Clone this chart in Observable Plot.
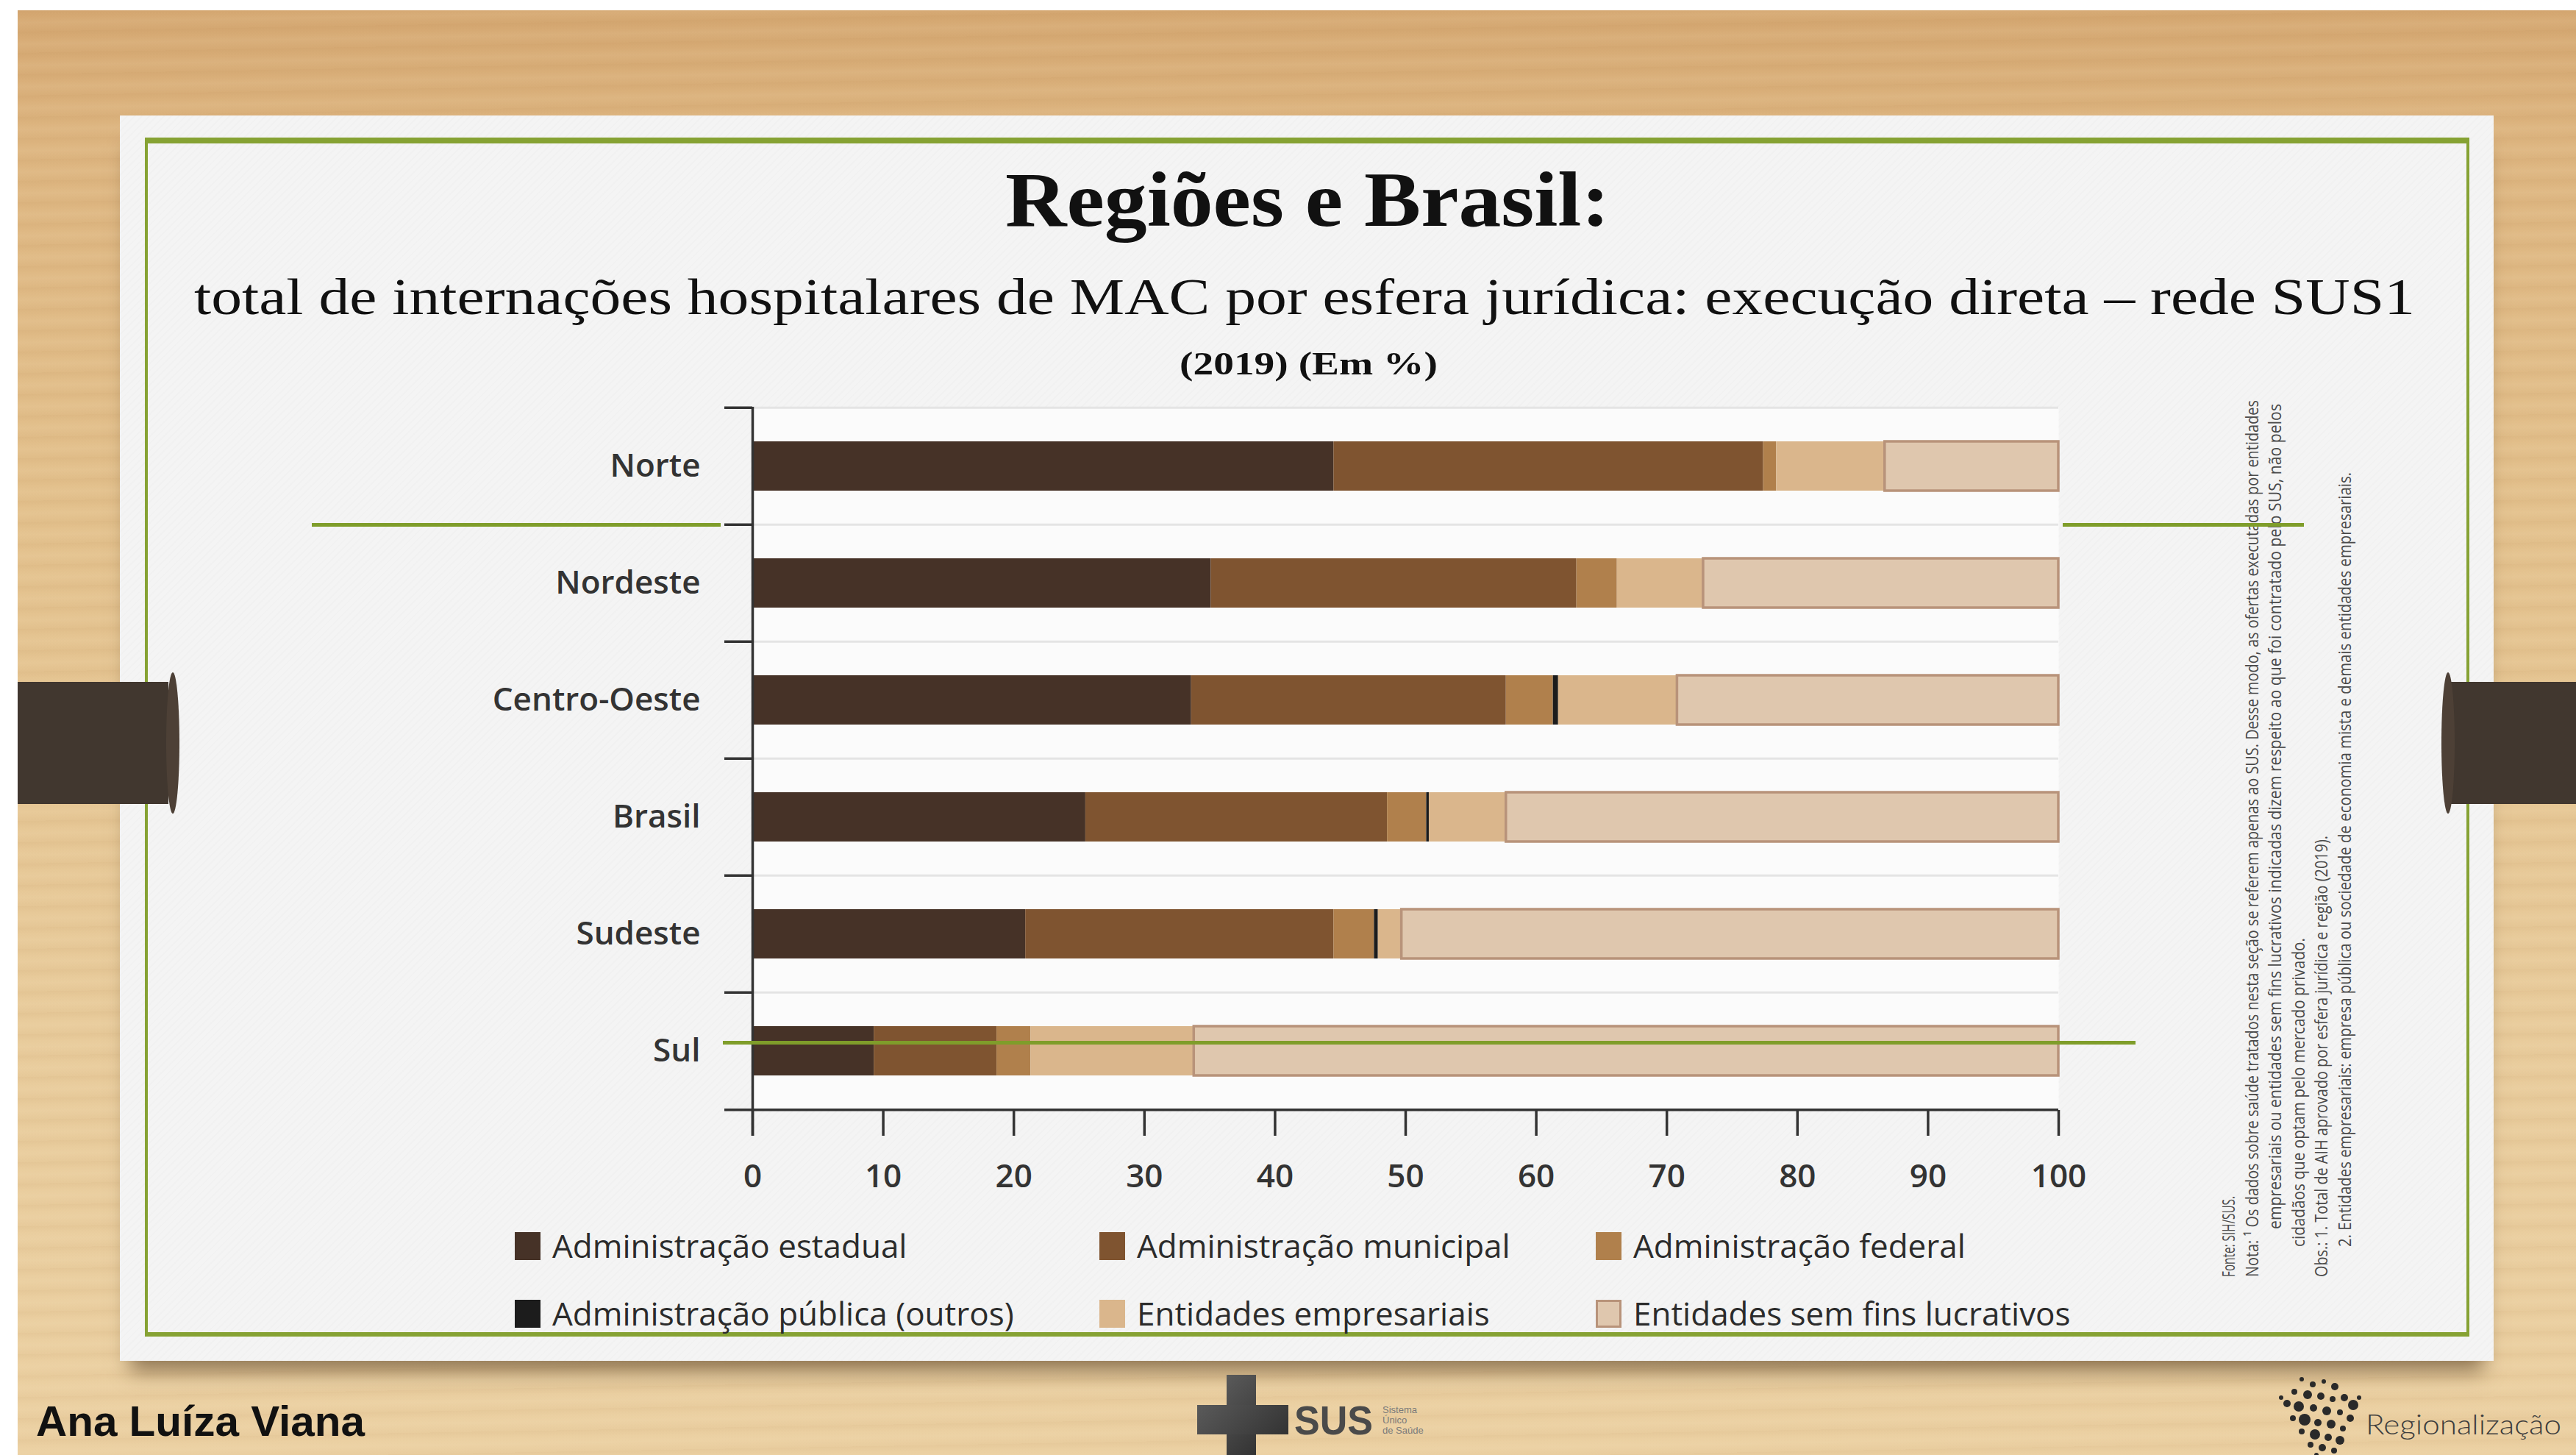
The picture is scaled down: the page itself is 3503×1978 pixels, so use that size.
<!DOCTYPE html>
<html><head><meta charset="utf-8">
<script src="https://cdn.jsdelivr.net/npm/d3@7"></script>
<script src="https://cdn.jsdelivr.net/npm/@observablehq/plot@0.6"></script>
<style>
html,body{margin:0;padding:0;}
body{width:3503px;height:1978px;position:relative;overflow:hidden;background:#fff;}
#wood{position:absolute;left:24px;top:14px;right:0;bottom:0;z-index:0;background:
 repeating-linear-gradient(179deg, rgba(150,95,40,0.06) 0px, rgba(150,95,40,0.0) 9px, rgba(255,240,210,0.07) 17px, rgba(150,95,40,0.03) 29px),
 linear-gradient(180deg,#d5a872 0%,#ddb580 9%,#e3c18d 35%,#e8cb9b 70%,#ebd0a2 100%);}
#card{position:absolute;left:163px;top:157px;width:3228px;height:1693px;z-index:1;background:#f4f4f4;
 background-image:repeating-linear-gradient(135deg, rgba(0,0,0,0.012) 0 2px, transparent 2px 7px);
 box-shadow:0 28px 26px -14px rgba(70,45,20,0.55);}
#border{position:absolute;left:197px;top:187px;width:3161px;height:1630px;z-index:2;box-sizing:border-box;
 border:4px solid #86a233;border-top-width:8px;border-bottom-width:6px;}
#chart{position:absolute;left:560px;top:520px;z-index:5;}
#chart svg{overflow:visible;}
.deco{position:absolute;height:5px;background:#7f9d2a;z-index:8;}
.tab{position:absolute;background:#41372f;z-index:9;}
.knob{position:absolute;background:#4d4036;border-radius:50%;z-index:9;}
.sw{position:absolute;width:35px;height:38px;box-sizing:border-box;z-index:6;}
.dot{position:absolute;background:#2a2a2a;border-radius:50%;z-index:6;}
</style>
</head><body>
<div id="wood"></div>
<div id="card"></div>
<div id="border"></div>
<div id="chart"></div>
<script>
// ---------- data ----------
const regions = ["Norte", "Nordeste", "Centro-Oeste", "Brasil", "Sudeste", "Sul"];
const series = ["Administração estadual", "Administração municipal", "Administração federal",
  "Administração pública (outros)", "Entidades empresariais", "Entidades sem fins lucrativos"];
const seriesColors = ["#463227", "#7f5430", "#b0804c", "#1c1c1c", "#dab68c", "#dfc7ae"];
const estadual      = [44.5, 35.1, 33.6, 25.5, 20.9, 9.3];
const municipal     = [32.9, 28.0, 24.1, 23.1, 23.6, 9.4];
const federal       = [1.0, 3.1, 3.6, 3.0, 3.1, 2.6];
const publicaOutros = [0.0, 0.0, 0.4, 0.2, 0.3, 0.0];
const empresariais  = [8.3, 6.6, 9.1, 5.9, 1.8, 12.5];
const semFins       = [13.3, 27.2, 29.2, 42.3, 50.3, 66.2];
const xTicks = [0, 10, 20, 30, 40, 50, 60, 70, 80, 90, 100];

const titleText = "Regiões e Brasil:";
const subtitleText = "total de internações hospitalares de MAC por esfera jurídica: execução direta – rede SUS1";
const subtitle2Text = "(2019) (Em %)";
const notes = [
  "Fonte: SIH/SUS.",
  "Nota: ¹ Os dados sobre saúde tratados nesta seção se referem apenas ao SUS. Desse modo, as ofertas executadas por entidades",
  "empresariais ou entidades sem fins lucrativos indicadas dizem respeito ao que foi contratado pelo SUS, não pelos",
  "cidadãos que optam pelo mercado privado.",
  "Obs.: 1. Total de AIH aprovado por esfera jurídica e região (2019).",
  "2. Entidades empresariais: empresa pública ou sociedade de economia mista e demais entidades empresariais."
];

// ---------- table ----------
const seriesValues = [estadual, municipal, federal, publicaOutros, empresariais, semFins];
const rows = [];
regions.forEach((r, i) => series.forEach((s, j) => rows.push({region: r, series: s, value: seriesValues[j][i]})));

// ---------- plot ----------
const W = 2290, H = 1130, mL = 463, mR = 51, mT = 33, mB = 141;
const step = (H - mT - mB) / regions.length;
const ink = "#333";

const chart = Plot.plot({
  width: W, height: H, marginLeft: mL, marginRight: mR, marginTop: mT, marginBottom: mB,
  style: {fontFamily: "'Open Sans', sans-serif", fontSize: "44px", color: ink, background: "transparent"},
  x: {domain: [0, 100], axis: null},
  y: {domain: regions, paddingInner: 0.58, paddingOuter: 0.29, axis: null},
  color: {domain: series, range: seriesColors},
  opacity: {domain: [0, 1], range: [0, 1]},
  marks: [
    Plot.frame({fill: "#fbfbfb", stroke: "none"}),
    Plot.ruleY(regions, {y: d => d, dy: -step / 2, stroke: "#e4e4e4", strokeWidth: 3}),
    Plot.barX(rows.filter(d => d.value > 0), Plot.stackX({x: "value", y: "region", z: "series", fill: "series", order: series})),
    Plot.barX(rows, Plot.stackX({x: "value", y: "region", z: "series", order: series, fill: "none",
      stroke: "#b8937a", strokeWidth: 3.5, strokeOpacity: d => d.series === series[5] ? 1 : 0})),
    Plot.ruleY(regions, {y: d => d, dy: -step / 2, x1: 0, x2: 0, insetLeft: -38, stroke: ink, strokeWidth: 3.5}),
    Plot.ruleY([regions[regions.length - 1]], {y: d => d, dy: step / 2, x1: 0, x2: 100, insetLeft: -38, stroke: ink, strokeWidth: 3.5}),
    Plot.ruleX([0], {stroke: ink, strokeWidth: 3.5, insetBottom: -35}),
    Plot.axisX({ticks: xTicks, tickSize: 35, tickPadding: 38, fontSize: 44, fontWeight: 600, stroke: ink, strokeWidth: 3.5, label: null}),
    Plot.axisY({tickSize: 0, tickPadding: 71, fontSize: 44, fontWeight: 600, label: null})
  ]
});
document.getElementById("chart").appendChild(chart);

// ---------- text helpers ----------
function addText(txt, o) {
  const el = document.createElement("div");
  el.textContent = txt;
  Object.assign(el.style, {position: "absolute", left: o.x + "px", top: "0px", fontFamily: o.family,
    fontSize: o.size + "px", fontWeight: o.weight || 400, color: o.color || "#222", whiteSpace: "nowrap",
    lineHeight: "normal", zIndex: o.z || 20});
  const m = document.createElement("span");
  m.style.cssText = "display:inline-block;width:0;height:0;";
  el.appendChild(m);
  document.body.appendChild(el);
  el.style.top = (o.baseline - m.offsetTop) + "px";
  if (o.width) {
    const w = el.getBoundingClientRect().width;
    el.style.transformOrigin = "0 0";
    el.style.transform = `scaleX(${o.width / w})`;
  }
  return el;
}
function addRotated(txt, x, yStart, len, size) {
  const el = document.createElement("div");
  el.textContent = txt;
  Object.assign(el.style, {position: "absolute", left: x + "px", top: yStart + "px", fontFamily: "'Open Sans', sans-serif",
    fontSize: size + "px", lineHeight: size + "px", color: "#4a4a4a", whiteSpace: "nowrap", zIndex: 7});
  document.body.appendChild(el);
  const w = el.getBoundingClientRect().width;
  el.style.transformOrigin = "0 0";
  el.style.transform = `rotate(-90deg) scaleX(${len / w})`;
}

// titles
addText(titleText, {x: 1367, baseline: 307, size: 106, family: "'Liberation Serif', serif", weight: 700, width: 822, color: "#111"});
addText(subtitleText, {x: 264, baseline: 427, size: 70, family: "'Liberation Serif', serif", weight: 400, width: 3020, color: "#111"});
addText(subtitle2Text, {x: 1604, baseline: 509, size: 44, family: "'Liberation Serif', serif", weight: 700, width: 351, color: "#111"});

// legend (built from series + colours)
const legX = [700, 1495, 2170];
const legY = [1694, 1786];
series.forEach((s, i) => {
  const col = i % 3, row = Math.floor(i / 3);
  const sw = document.createElement("div");
  sw.className = "sw";
  sw.style.left = legX[col] + "px";
  sw.style.top = (legY[row] - 19) + "px";
  sw.style.background = seriesColors[i];
  if (i === 5) sw.style.border = "3px solid #b8937a";
  document.body.appendChild(sw);
  addText(s, {x: legX[col] + 51, baseline: legY[row] + 16, size: 44, family: "'Open Sans', sans-serif", color: "#2b2b2b"});
});

// vertical notes
const noteX = [3018, 3050, 3081, 3113, 3144, 3176];
const noteY = [1736, 1736, 1671, 1695, 1736, 1695];
const noteLen = [110, 1192, 1122, 420, 600, 1053];
notes.forEach((t, i) => addRotated(t, noteX[i], noteY[i], noteLen[i], 24));

// decorative template lines
[[424, 711, 556], [2805, 711, 328], [983, 1415, 1921]].forEach(([x, y, w]) => {
  const d = document.createElement("div");
  d.className = "deco";
  d.style.left = x + "px"; d.style.top = y + "px"; d.style.width = w + "px";
  document.body.appendChild(d);
});

// side tabs
[[24, 927, 205, 166], [3330, 927, 173, 166]].forEach(([x, y, w, h]) => {
  const d = document.createElement("div");
  d.className = "tab";
  Object.assign(d.style, {left: x + "px", top: y + "px", width: w + "px", height: h + "px"});
  document.body.appendChild(d);
});
[[226, 914, 18, 192], [3320, 914, 18, 192]].forEach(([x, y, w, h]) => {
  const d = document.createElement("div");
  d.className = "knob";
  Object.assign(d.style, {left: x + "px", top: y + "px", width: w + "px", height: h + "px"});
  document.body.appendChild(d);
});

// footer
addText("Ana Luíza Viana", {x: 49, baseline: 1952, size: 58, family: "'Liberation Sans', Arial, sans-serif", weight: 700, width: 447, color: "#111", z: 6});
// SUS logo
[[1668, 1869, 40, 109], [1628, 1910, 124, 40]].forEach(([x, y, w, h]) => {
  const d = document.createElement("div");
  Object.assign(d.style, {position: "absolute", left: x + "px", top: y + "px", width: w + "px", height: h + "px",
    background: "linear-gradient(135deg,#5a5a5a,#333)", zIndex: 6});
  document.body.appendChild(d);
});
addText("SUS", {x: 1760, baseline: 1950, size: 56, family: "'Liberation Sans', sans-serif", weight: 700, width: 107, color: "#4a4a4a", z: 6});
addText("Sistema", {x: 1880, baseline: 1921, size: 13, family: "'Liberation Sans', sans-serif", color: "#7a7a7a", z: 6});
addText("Único", {x: 1880, baseline: 1935, size: 13, family: "'Liberation Sans', sans-serif", color: "#7a7a7a", z: 6});
addText("de Saúde", {x: 1880, baseline: 1949, size: 13, family: "'Liberation Sans', sans-serif", color: "#7a7a7a", z: 6});
// Regionalização logo
const dots = [[40,5,3],[55,12,4],[70,8,3],[85,15,5],[30,22,4],[48,26,6],[66,28,5],[82,32,4],[98,30,5],[110,40,7],
  [20,38,5],[36,42,7],[56,44,5],[74,48,6],[92,50,4],[106,58,5],[28,58,4],[44,60,8],[62,64,5],[80,66,6],
  [96,72,4],[40,76,4],[58,80,7],[76,84,5],[92,88,6],[52,94,4],[68,98,5],[84,102,4],[60,108,3],[12,30,3],[118,30,3]];
dots.forEach(([dx, dy, r]) => {
  const d = document.createElement("div");
  d.className = "dot";
  Object.assign(d.style, {left: (3090 + dx - r) + "px", top: (1870 + dy - r) + "px", width: 2 * r + "px", height: 2 * r + "px"});
  document.body.appendChild(d);
});
addText("Regionalização", {x: 3217, baseline: 1950, size: 38, family: "Lato, sans-serif", weight: 300, width: 266, color: "#3d3d3d", z: 6});
</script>
</body></html>
